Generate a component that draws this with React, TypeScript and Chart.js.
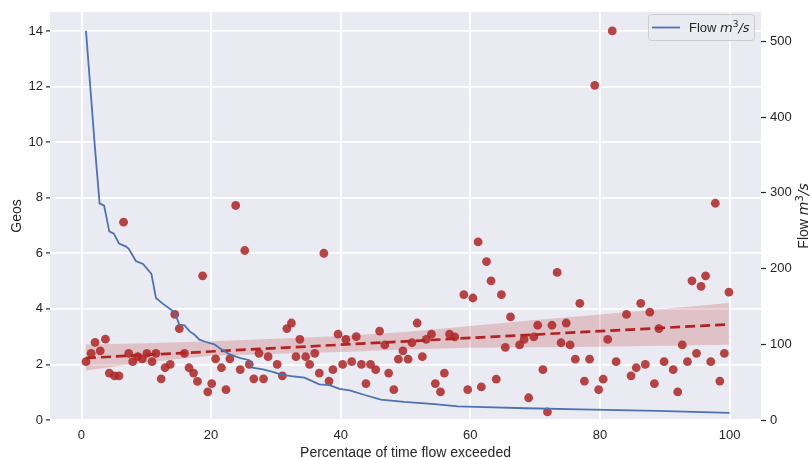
import React, { useEffect, useRef } from "react";
import { Chart, registerables } from "chart.js";

Chart.register(...registerables);

// ---- data ----
const geoX = [0.7, 1.5, 2.1, 2.9, 3.7, 4.3, 5.1, 5.8, 6.5, 7.3, 7.9, 8.7, 9.4, 10.1, 10.9, 11.5, 12.3, 12.9, 13.7, 14.4,
  15.1, 15.9, 16.6, 17.3, 17.9, 18.7, 19.5, 20.1, 20.7, 21.6, 22.3, 22.9, 23.8, 24.5, 25.2, 25.9, 26.6, 27.4, 28.1, 28.8,
  30.2, 31.0, 31.7, 32.4, 33.1, 33.7, 34.6, 35.2, 36.0, 36.7, 37.4, 38.2, 38.8, 39.6, 40.3, 40.8, 41.7, 42.4, 43.2, 43.9,
  44.6, 45.4, 46.0, 46.8, 47.4, 48.2, 48.9, 49.6, 50.4, 51.0, 51.8, 52.6, 53.2, 54.0, 54.6, 55.4, 56.0, 56.8, 57.6, 59.0,
  59.6, 60.4, 61.2, 61.7, 62.5, 63.2, 64.0, 64.8, 65.4, 66.2, 67.6, 68.3, 69.0, 69.8, 70.4, 71.2, 71.9, 72.6, 73.4, 74.0,
  74.8, 75.4, 76.2, 76.9, 77.6, 78.4, 79.2, 79.8, 80.5, 81.2, 81.9, 82.5, 84.1, 84.8, 85.6, 86.3, 87.0, 87.7, 88.4, 89.1,
  89.9, 91.3, 92.0, 92.7, 93.5, 94.2, 94.9, 95.6, 96.3, 97.1, 97.8, 98.5, 99.2, 99.9];
const geoY = [2.10, 2.40, 2.79, 2.49, 2.91, 1.69, 1.59, 1.59, 7.12, 2.40, 2.10, 2.28, 2.20, 2.40, 2.10, 2.40, 1.48, 1.88, 2.00, 3.80,
  3.29, 2.40, 1.88, 1.69, 1.39, 5.19, 1.01, 1.31, 2.20, 1.88, 1.09, 2.20, 7.72, 1.81, 6.10, 2.00, 1.48, 2.40, 1.48, 2.28,
  2.00, 1.59, 3.29, 3.49, 2.28, 2.90, 2.28, 2.00, 2.40, 1.69, 6.00, 1.40, 1.81, 3.09, 2.00, 2.90, 2.10, 3.00, 2.00, 1.31,
  2.00, 1.81, 3.20, 2.70, 1.69, 1.09, 2.19, 2.49, 2.19, 2.78, 3.49, 2.28, 2.90, 3.09, 1.31, 1.01, 1.69, 3.09, 2.99, 4.51,
  1.09, 4.39, 6.41, 1.19, 5.70, 5.01, 1.47, 4.51, 2.61, 3.71, 2.70, 2.90, 0.80, 2.99, 3.41, 1.81, 0.29, 3.41, 5.31, 2.78,
  3.49, 2.70, 2.19, 4.20, 1.40, 2.19, 12.04, 1.09, 1.47, 2.90, 14.0, 2.10, 3.80, 1.59, 1.88, 4.20, 2.00, 3.88, 1.31, 3.29,
  2.10, 1.81, 1.01, 2.70, 2.10, 5.01, 2.40, 4.81, 5.19, 2.10, 7.80, 1.40, 2.40, 4.60];

const regX = [0.7, 99.9];
const regY = [2.23, 3.44];

const bandX = [0.7, 10, 20, 30, 40, 50, 60, 70, 80, 90, 99.9];
const bandLow = [1.78, 2.08, 2.31, 2.38, 2.45, 2.54, 2.60, 2.62, 2.64, 2.67, 2.71];
const bandHigh = [2.72, 2.76, 2.83, 2.92, 3.02, 3.17, 3.38, 3.60, 3.80, 4.00, 4.21];

const flowX = [0.7, 2.1, 2.8, 3.5, 4.3, 5.0, 5.8, 6.9, 7.3, 8.4, 9.5, 10.8, 11.5, 12.5, 14.4, 15.1, 15.9, 16.7, 17.4, 18.2,
  19.2, 20.5, 21.3, 22.8, 24.4, 25.9, 26.4, 28.0, 29.8, 30.8, 32.4, 34.4, 36.7, 38.3, 39.8, 41.4, 43.7, 46.2, 49.8, 54.5,
  58.1, 62.2, 68.6, 76.9, 83.0, 88.9, 100];
const flowY = [514, 358, 286, 283, 249, 246, 233, 229, 226, 210, 206, 193, 161, 154, 142, 126, 125, 117, 113, 106,
  103, 100, 95, 87, 82, 79, 69, 67, 63, 60, 58, 56, 47, 46, 41, 39, 33, 27, 24, 21,
  18, 17, 15.5, 14, 13, 12, 9.5];

const xTicks = [0, 20, 40, 60, 80, 100];
const yTicks = [0, 2, 4, 6, 8, 10, 12, 14];
const y2Ticks = [0, 100, 200, 300, 400, 500];

const xTitle = "Percentage of time flow exceeded";
const yTitle = "Geos";
const flowWord = "Flow ";

const FONT = '"Liberation Sans", Arial, sans-serif';
const MATH = '"DejaVu Sans", sans-serif';
const TEXT = "#262626";

function drawRich(ctx: CanvasRenderingContext2D, x: number, y: number, size: number, align: "left" | "center") {
  const parts = [
    { t: flowWord, f: `${size}px ${FONT}`, dy: 0 },
    { t: "m", f: `italic ${size}px ${MATH}`, dy: 0 },
    { t: "3", f: `${Math.round(size * 0.7)}px ${MATH}`, dy: -size * 0.38 },
    { t: "/s", f: `italic ${size}px ${MATH}`, dy: 0 },
  ];
  let total = 0;
  const widths = parts.map((p) => { ctx.font = p.f; const w = ctx.measureText(p.t).width; total += w; return w; });
  let cx = align === "center" ? x - total / 2 : x;
  ctx.textAlign = "left";
  parts.forEach((p, i) => {
    ctx.font = p.f;
    ctx.fillText(p.t, cx, y + p.dy);
    cx += widths[i];
  });
}

const bgPlugin = {
  id: "bgPlugin",
  beforeDraw(chart: any) {
    const { ctx, chartArea: a } = chart;
    ctx.save();
    ctx.fillStyle = "#EAEAF2";
    ctx.fillRect(a.left, a.top, a.right - a.left, a.bottom - a.top);
    ctx.restore();
  },
};

const decoPlugin = {
  id: "decoPlugin",
  afterDraw(chart: any) {
    const { ctx, chartArea: a } = chart;
    ctx.save();
    ctx.fillStyle = TEXT;
    // x title
    ctx.font = `14px ${FONT}`;
    ctx.textAlign = "center";
    ctx.textBaseline = "alphabetic";
    ctx.fillText(xTitle, (a.left + a.right) / 2, 457);
    // left title
    ctx.save();
    ctx.translate(17, (a.top + a.bottom) / 2);
    ctx.rotate(-Math.PI / 2);
    ctx.textBaseline = "middle";
    ctx.fillText(yTitle, 0, 0);
    ctx.restore();
    // right title
    ctx.save();
    ctx.translate(808, (a.top + a.bottom) / 2);
    ctx.rotate(-Math.PI / 2);
    ctx.textBaseline = "alphabetic";
    drawRich(ctx, 0, 0, 14, "center");
    ctx.restore();
    // legend
    ctx.beginPath();
    (ctx as any).roundRect(648.5, 14.5, 106, 26, 3);
    ctx.fillStyle = "rgba(234,234,242,0.8)";
    ctx.fill();
    ctx.strokeStyle = "#cccccc";
    ctx.lineWidth = 1;
    ctx.stroke();
    ctx.beginPath();
    ctx.moveTo(652, 27.5);
    ctx.lineTo(680, 27.5);
    ctx.strokeStyle = "#4c72b0";
    ctx.lineWidth = 1.8;
    ctx.stroke();
    ctx.fillStyle = TEXT;
    ctx.textBaseline = "alphabetic";
    drawRich(ctx, 689, 32, 13, "left");
    ctx.restore();
  },
};

export default function App() {
  const ref = useRef<HTMLCanvasElement | null>(null);
  useEffect(() => {
    if (!ref.current) return;
    const tickFont = { family: FONT, size: 13 };
    const chart = new Chart(ref.current, {
      type: "line",
      data: {
        datasets: [
          {
            label: "Flow",
            data: flowX.map((x, i) => ({ x, y: flowY[i] })),
            yAxisID: "y2",
            borderColor: "#4c72b0",
            borderWidth: 1.8,
            pointRadius: 0,
            fill: false,
            tension: 0,
            order: 0,
          },
          {
            label: "fit",
            data: regX.map((x, i) => ({ x, y: regY[i] })),
            yAxisID: "y",
            borderColor: "#b22222",
            borderWidth: 2.7,
            borderDash: [10, 5],
            pointRadius: 0,
            fill: false,
            order: 1,
          },
          {
            label: "ciHigh",
            data: bandX.map((x, i) => ({ x, y: bandHigh[i] })),
            yAxisID: "y",
            borderColor: "transparent",
            borderWidth: 1,
            pointRadius: 0,
            fill: 3,
            backgroundColor: "rgba(178,34,34,0.2)",
            order: 2,
          },
          {
            label: "ciLow",
            data: bandX.map((x, i) => ({ x, y: bandLow[i] })),
            yAxisID: "y",
            borderColor: "transparent",
            borderWidth: 1,
            pointRadius: 0,
            fill: false,
            order: 3,
          },
          {
            label: "Geos",
            data: geoX.map((x, i) => ({ x, y: geoY[i] })),
            yAxisID: "y",
            showLine: false,
            pointRadius: 4.4,
            pointBackgroundColor: "rgba(172,38,38,0.85)",
            pointBorderColor: "rgba(172,38,38,0.85)",
            pointBorderWidth: 0,
            order: 4,
          },
        ],
      } as any,
      options: {
        responsive: false,
        animation: false,
        devicePixelRatio: 1,
        layout: { padding: { top: 7, left: 0, right: 0, bottom: 0 } },
        plugins: { legend: { display: false }, tooltip: { enabled: false } },
        scales: {
          x: {
            type: "linear",
            min: -4.85,
            max: 104.85,
            afterBuildTicks: (s: any) => { s.ticks = xTicks.map((v) => ({ value: v })); },
            afterFit: (s: any) => { s.height = 38; },
            ticks: { font: tickFont, color: TEXT, padding: 3, callback: (v: any) => String(v) },
            grid: { color: "#ffffff", lineWidth: 1.8, tickColor: "rgba(0,0,0,0)", tickLength: 5 },
            border: { display: false },
          },
          y: {
            type: "linear",
            position: "left",
            min: 0,
            max: 14.69,
            afterBuildTicks: (s: any) => { s.ticks = yTicks.map((v) => ({ value: v })); },
            afterFit: (s: any) => { s.width = 50; },
            ticks: { font: tickFont, color: TEXT, padding: 3, callback: (v: any) => String(v) },
            grid: { color: "#ffffff", lineWidth: 1.8, tickColor: TEXT, tickLength: 4, tickWidth: 1.2 },
            border: { display: false },
          },
          y2: {
            type: "linear",
            position: "right",
            min: 0,
            max: 539,
            afterBuildTicks: (s: any) => { s.ticks = y2Ticks.map((v) => ({ value: v })); },
            afterFit: (s: any) => { s.width = 51; },
            ticks: { font: tickFont, color: TEXT, padding: 4, callback: (v: any) => String(v) },
            grid: { drawOnChartArea: false, tickColor: TEXT, tickLength: 5, tickWidth: 1.2 },
            border: { display: false },
          },
        },
      } as any,
      plugins: [bgPlugin, decoPlugin],
    });
    return () => chart.destroy();
  }, []);
  return (
    <div style={{ position: "absolute", left: 0, top: 0, width: 812, height: 458, background: "#ffffff" }}>
      <canvas ref={ref} width={812} height={458} style={{ display: "block" }} />
    </div>
  );
}
